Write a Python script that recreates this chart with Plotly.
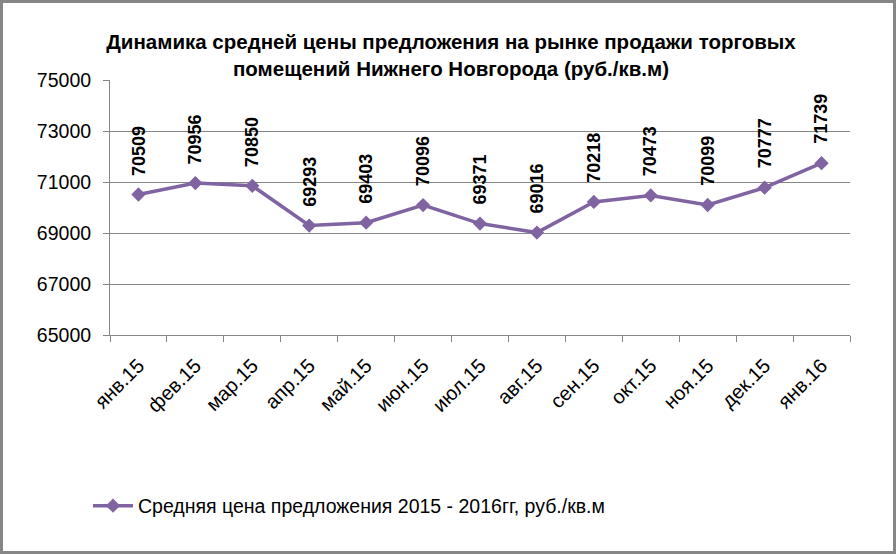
import plotly.graph_objects as go

months = ["янв.15", "фев.15", "мар.15", "апр.15", "май.15", "июн.15", "июл.15",
          "авг.15", "сен.15", "окт.15", "ноя.15", "дек.15", "янв.16"]
prices = [70509, 70956, 70850, 69293, 69403, 70096, 69371, 69016, 70218, 70473, 70099, 70777, 71739]
series_name = "Средняя цена предложения 2015 - 2016гг, руб./кв.м"
title_text = "Динамика средней цены предложения на рынке продажи торговых<br>помещений Нижнего Новгорода (руб./кв.м)"
y_ticks = [65000, 67000, 69000, 71000, 73000, 75000]

W, H = 896, 554
ML, MR, MT, MB = 110, 46, 80, 219
PW, PH = W - ML - MR, H - MT - MB
color = "#8064A2"
font_family = "Liberation Sans, Arial, sans-serif"

fig = go.Figure()
fig.add_trace(go.Scatter(
    x=months, y=prices, mode="lines+markers", name=series_name,
    line=dict(color=color, width=3.5),
    marker=dict(symbol="diamond", size=11, color=color),
))

for m, p in zip(months, prices):
    fig.add_annotation(x=m, y=p, text=f"<b>{p}</b>", textangle=-90, showarrow=False,
                       yanchor="bottom", yshift=17,
                       font=dict(size=18, color="black", family=font_family))

fig.add_shape(type="rect", xref="paper", yref="paper",
              x0=-(ML - 1.5) / PW, x1=1 + (MR - 1.5) / PW,
              y0=-(MB - 1.5) / PH, y1=1 + (MT - 1.5) / PH,
              line=dict(color="#868686", width=3), layer="below")

fig.update_layout(
    width=W, height=H,
    margin=dict(l=ML, r=MR, t=MT, b=MB),
    paper_bgcolor="white", plot_bgcolor="white",
    title=dict(text="<b>" + title_text + "</b>", x=(451 - ML) / PW, xref="paper", xanchor="center",
               y=1 - 49 / H, yanchor="middle",
               font=dict(size=20.5, color="black", family=font_family)),
    font=dict(family=font_family, color="black"),
    xaxis=dict(type="category", range=[-0.5, 12.5], tickangle=-45,
               tickson="boundaries", ticks="outside", ticklen=6, tickcolor="#868686",
               showgrid=False, showline=True, linecolor="#868686", linewidth=1,
               tickfont=dict(size=20), zeroline=False, ticklabelstandoff=10),
    yaxis=dict(range=[65000, 75000], tickvals=y_ticks, ticktext=[str(v) for v in y_ticks],
               ticks="outside", ticklen=6, tickcolor="#868686",
               showgrid=True, gridcolor="#868686", gridwidth=1,
               showline=True, linecolor="#868686", linewidth=1,
               tickfont=dict(size=19.5), zeroline=False, ticklabelstandoff=8),
    showlegend=True,
    legend=dict(orientation="h", x=(88 - ML) / PW, xanchor="left",
                y=-(506 - 335) / PH, yanchor="middle",
                font=dict(size=19.5), itemwidth=40, bgcolor="rgba(0,0,0,0)"),
)

fig.write_html("out.html", config={"displayModeBar": False},
               post_script="document.body.style.margin='0';document.body.style.overflow='hidden';")
